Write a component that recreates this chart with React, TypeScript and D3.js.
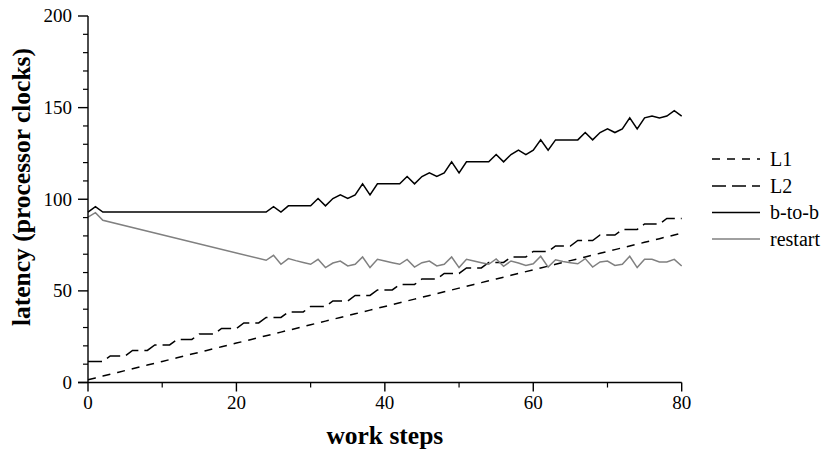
import React from 'react';
import * as d3 from 'd3';

// x categories (work steps)
const workSteps: number[] = d3.range(0, 81);
const sparseSteps: number[] = [0, 1, 2, ...d3.range(24, 81)];

const l1Values = [
  1.5, 2.5, 3.5, 4.5, 5.5, 6.5, 7.5, 8.5, 9.5, 10.5,
  11.5, 12.5, 13.5, 14.5, 15.5, 16.5, 17.5, 18.5, 19.5, 20.5,
  21.5, 22.5, 23.5, 24.5, 25.5, 26.5, 27.5, 28.5, 29.5, 30.5,
  31.5, 32.5, 33.5, 34.5, 35.5, 36.5, 37.5, 38.5, 39.5, 40.5,
  41.5, 42.5, 43.5, 44.5, 45.5, 46.5, 47.5, 48.5, 49.5, 50.5,
  51.5, 52.5, 53.5, 54.5, 55.5, 56.5, 57.5, 58.5, 59.5, 60.5,
  61.5, 62.5, 63.5, 64.5, 65.5, 66.5, 67.5, 68.5, 69.5, 70.5,
  71.5, 72.5, 73.5, 74.5, 75.5, 76.5, 77.5, 78.5, 79.5, 80.5,
  81.5,
];

const l2Values = [
  11.5, 11.5, 11.5, 14.5, 14.5, 14.5, 17.5, 17.5, 17.5, 20.5,
  20.5, 20.5, 23.5, 23.5, 23.5, 26.5, 26.5, 26.5, 29.5, 29.5,
  29.5, 32.5, 32.5, 32.5, 35.5, 35.5, 35.5, 38.5, 38.5, 38.5,
  41.5, 41.5, 41.5, 44.5, 44.5, 44.5, 47.5, 47.5, 47.5, 50.5,
  50.5, 50.5, 53.5, 53.5, 53.5, 56.5, 56.5, 56.5, 59.5, 59.5,
  59.5, 62.5, 62.5, 62.5, 65.5, 65.5, 65.5, 68.5, 68.5, 68.5,
  71.5, 71.5, 71.5, 74.5, 74.5, 74.5, 77.5, 77.5, 77.5, 80.5,
  80.5, 80.5, 83.5, 83.5, 83.5, 86.5, 86.5, 86.5, 89.5, 89.5,
  89.5,
];

// values at sparseSteps
const btobValues = [
  93, 96, 93,
  93, 96, 93, 96.4, 96.4, 96.4, 96.4, 100.4, 96.4, 100.4, 102.4, 100.4, 102.4, 108.4, 102.4,
  108.4, 108.4, 108.4, 108.4, 112.4, 108.4, 112.4, 114.4, 112.4, 114.4, 120.4, 114.4,
  120.4, 120.4, 120.4, 120.4, 124.4, 120.4, 124.4, 126.8, 124.4, 126.8, 132.4, 126.8,
  132.4, 132.4, 132.4, 132.4, 136.4, 132.4, 136.4, 138.4, 136.4, 138.4, 144.4, 138.4,
  144.4, 145.4, 144.4, 145.4, 148.3, 145.4,
];

const restartValues = [
  90.3, 92.7, 88.5,
  66.7, 69.4, 64.5, 67.6, 66.5, 65.5, 64.5, 67.2, 62.7, 65.2, 66.3, 63.6, 64.5, 68.5, 62.7,
  67.2, 66.3, 65.4, 64.5, 67.2, 63.0, 65.4, 66.3, 63.6, 64.5, 68.5, 62.7,
  67.2, 66.3, 65.4, 64.5, 67.4, 63.4, 66.3, 65.2, 63.9, 64.8, 68.9, 63.0,
  67.0, 66.0, 65.4, 64.8, 67.6, 63.0, 65.8, 66.3, 63.9, 64.5, 68.9, 62.7,
  67.2, 67.2, 65.8, 65.8, 67.2, 63.6,
];

const xMajorTicks = [0, 20, 40, 60, 80];
const xMinorTicks = [10, 30, 50, 70];
const yMajorTicks = [0, 50, 100, 150, 200];
const yMinorTicks = [10, 20, 30, 40, 60, 70, 80, 90, 110, 120, 130, 140, 160, 170, 180, 190];

const seriesNames = ['L1', 'L2', 'b-to-b', 'restart'];

export default function App() {
  const W = 830;
  const H = 451;
  const x = d3.scaleLinear().domain([0, 80]).range([88, 681.7]);
  const y = d3.scaleLinear().domain([0, 200]).range([382.5, 16]);

  const line = d3
    .line<[number, number]>()
    .x((d) => x(d[0]))
    .y((d) => y(d[1]));

  const series = [
    { name: seriesNames[0], xs: workSteps, vs: l1Values, color: '#000', dash: '8,7', width: 1.5 },
    { name: seriesNames[1], xs: workSteps, vs: l2Values, color: '#000', dash: '14,6', width: 1.5 },
    { name: seriesNames[2], xs: sparseSteps, vs: btobValues, color: '#000', dash: null, width: 1.5 },
    { name: seriesNames[3], xs: sparseSteps, vs: restartValues, color: '#808080', dash: null, width: 1.5 },
  ];

  const font = '"Liberation Serif", "Times New Roman", serif';
  const legendY = [159, 186, 212.5, 239];

  return (
    <svg
      width={W}
      height={H}
      style={{ position: 'absolute', left: 0, top: 0, background: '#fff' }}
      fontFamily={font}
    >
      <rect x={0} y={0} width={W} height={H} fill="#fff" />
      {/* series */}
      {series.map((s) => (
        <path
          key={s.name}
          d={line(s.xs.map((xv, i) => [xv, s.vs[i]] as [number, number])) || ''}
          fill="none"
          stroke={s.color}
          strokeWidth={s.width}
          strokeDasharray={s.dash || undefined}
          strokeLinejoin="miter"
        />
      ))}

      {/* y axis */}
      <line x1={x(0)} x2={x(0)} y1={y(200)} y2={y(0)} stroke="#000" strokeWidth={1.4} />
      {yMajorTicks.map((t) => (
        <g key={'ym' + t}>
          <line x1={x(0) - 10} x2={x(0)} y1={y(t)} y2={y(t)} stroke="#000" strokeWidth={1.4} />
          <text x={x(0) - 16} y={y(t)} dy="0.33em" textAnchor="end" fontSize={19}>
            {t}
          </text>
        </g>
      ))}
      {yMinorTicks.map((t) => (
        <line key={'yn' + t} x1={x(0) - 5} x2={x(0)} y1={y(t)} y2={y(t)} stroke="#000" strokeWidth={1.2} />
      ))}

      {/* x axis */}
      <line x1={x(0) - 10} x2={x(80)} y1={y(0)} y2={y(0)} stroke="#000" strokeWidth={1.4} />
      {xMajorTicks.map((t) => (
        <g key={'xm' + t}>
          <line x1={x(t)} x2={x(t)} y1={y(0)} y2={y(0) + 9} stroke="#000" strokeWidth={1.4} />
          <text x={x(t)} y={409} textAnchor="middle" fontSize={19}>
            {t}
          </text>
        </g>
      ))}
      {xMinorTicks.map((t) => (
        <line key={'xn' + t} x1={x(t)} x2={x(t)} y1={y(0)} y2={y(0) + 5} stroke="#000" strokeWidth={1.2} />
      ))}

      {/* axis titles */}
      <text x={(x(0) + x(80)) / 2} y={444} textAnchor="middle" fontSize={25.5} fontWeight="bold">
        work steps
      </text>
      <text
        transform={`translate(30, 187) rotate(-90)`}
        textAnchor="middle"
        fontSize={25.5}
        fontWeight="bold"
      >
        latency (processor clocks)
      </text>

      {/* legend */}
      {series.map((s, i) => (
        <g key={'lg' + s.name}>
          <line
            x1={712}
            x2={760}
            y1={legendY[i]}
            y2={legendY[i]}
            stroke={s.color}
            strokeWidth={s.width}
            strokeDasharray={s.dash || undefined}
          />
          <text x={770} y={legendY[i]} dy="0.33em" fontSize={20}>
            {s.name}
          </text>
        </g>
      ))}
    </svg>
  );
}
